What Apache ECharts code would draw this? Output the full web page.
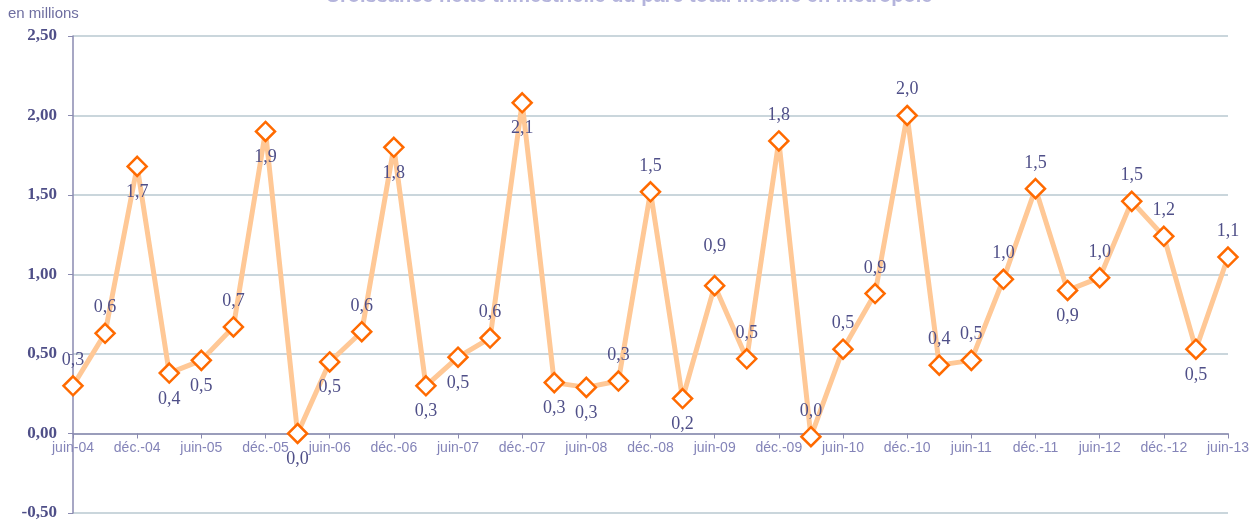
<!DOCTYPE html>
<html>
<head>
<meta charset="utf-8">
<script src="https://cdn.jsdelivr.net/npm/echarts@6/dist/echarts.min.js"></script>
<style>
  html, body { margin: 0; padding: 0; background: #fff; }
  #chart { width: 1258px; height: 527px; }
</style>
</head>
<body>
<div id="chart"></div>
<script>
// === Données =================================================================
const titre = 'Croissance nette trimestrielle du parc total mobile en métropole';
const unite = 'en millions';

const trimestres = [
  'juin-04', 'sept.-04', 'déc.-04', 'mars-05',
  'juin-05', 'sept.-05', 'déc.-05', 'mars-06',
  'juin-06', 'sept.-06', 'déc.-06', 'mars-07',
  'juin-07', 'sept.-07', 'déc.-07', 'mars-08',
  'juin-08', 'sept.-08', 'déc.-08', 'mars-09',
  'juin-09', 'sept.-09', 'déc.-09', 'mars-10',
  'juin-10', 'sept.-10', 'déc.-10', 'mars-11',
  'juin-11', 'sept.-11', 'déc.-11', 'mars-12',
  'juin-12', 'sept.-12', 'déc.-12', 'mars-13',
  'juin-13'
];

const croissance = [
  0.30, 0.63, 1.68, 0.38,
  0.46, 0.67, 1.90, 0.00,
  0.45, 0.64, 1.80, 0.30,
  0.48, 0.60, 2.08, 0.32,
  0.29, 0.33, 1.52, 0.22,
  0.93, 0.47, 1.84, -0.02,
  0.53, 0.88, 2.00, 0.43,
  0.46, 0.97, 1.54, 0.90,
  0.98, 1.46, 1.24, 0.53,
  1.11
];

// index des points dont l'étiquette est sous le marqueur
const etiquettesDessous = [2, 3, 4, 6, 7, 8, 10, 11, 12, 14, 15, 16, 19, 31, 35];

// === Style ===================================================================
const violet = '#4f4f88', violetClair = '#8484b8', axe = '#8a8ab0', grille = '#b9c8d0';
const orange = '#ff6a00', orangeClair = '#ffc896';
const fmtFr = (v, d) => v.toFixed(d).replace('.', ',');

const yMin = -0.5, yMax = 2.5;
const gridTop = 36, gridBottom = 14, hauteur = 527;
// décalage de l'axe des x pour qu'il passe par 0 (étiquettes comprises)
const offsetZero = -(hauteur - gridTop - gridBottom) * (0 - yMin) / (yMax - yMin);

const option = {
  animation: false,
  title: {
    text: titre, left: 'center', top: -14, padding: 0,
    textStyle: { fontFamily: 'Liberation Sans', fontSize: 20, fontWeight: 'bold', color: '#b4b4dc' }
  },
  graphic: [{
    type: 'text', left: 8, top: 6,
    style: { text: unite, fontFamily: 'Liberation Sans', fontSize: 15, fill: '#6e6ea0' }
  }],
  grid: { left: 73, right: 30, top: gridTop, bottom: gridBottom },
  xAxis: {
    type: 'category', data: trimestres, boundaryGap: false,
    position: 'bottom', offset: offsetZero,
    axisLine: { onZero: false, lineStyle: { color: axe, width: 1.5 } },
    axisTick: { interval: 1, length: 5, lineStyle: { color: axe } },
    axisLabel: { interval: 1, margin: 8, fontFamily: 'Liberation Sans', fontSize: 14, color: violetClair }
  },
  yAxis: {
    type: 'value', min: yMin, max: yMax, interval: 0.5,
    axisLine: { show: true, lineStyle: { color: axe, width: 1.5 } },
    axisTick: { show: true, length: 5, lineStyle: { color: axe } },
    axisLabel: {
      margin: 16, fontFamily: 'Liberation Serif', fontSize: 17, fontWeight: 'bold', color: violet,
      formatter: v => fmtFr(v, 2)
    },
    splitLine: { lineStyle: { color: grille, width: 1.5 } }
  },
  series: [{
    type: 'line',
    data: croissance.map((v, i) => ({
      value: v,
      label: {
        position: etiquettesDessous.includes(i) ? 'bottom' : 'top',
        distance: i === 20 ? 20 : 6
      }
    })),
    symbol: 'diamond', symbolSize: [19, 19],
    lineStyle: { color: orangeClair, width: 5 },
    itemStyle: { color: '#fff', borderColor: orange, borderWidth: 2.5 },
    label: {
      show: true,
      fontFamily: 'Liberation Serif', fontSize: 18, color: violet,
      formatter: p => fmtFr(Math.abs(p.value) < 0.05 ? 0 : p.value, 1)
    },
    z: 3
  }]
};

echarts.init(document.getElementById('chart')).setOption(option);
</script>
</body>
</html>
